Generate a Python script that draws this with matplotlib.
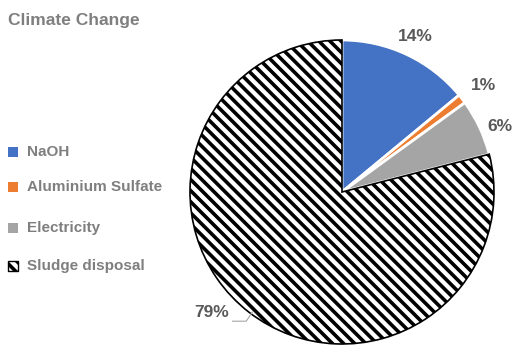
import matplotlib
matplotlib.use("Agg")
import matplotlib.pyplot as plt
from matplotlib.patches import Rectangle
from matplotlib import font_manager

categories = ["NaOH", "Aluminium Sulfate", "Electricity", "Sludge disposal"]
values = [14, 1, 6, 79]
labels = ["14%", "1%", "6%", "79%"]
colors = ["#4472C4", "#ED7D31", "#A5A5A5", "white"]

names = {f.name for f in font_manager.fontManager.ttflist}
fam = ["Liberation Sans Narrow", "DejaVu Sans"] if "Liberation Sans Narrow" in names else ["Liberation Sans", "DejaVu Sans"]
plt.rcParams['font.family'] = fam
plt.rcParams['hatch.linewidth'] = 2.6

W, H = 518, 349
fig = plt.figure(figsize=(W/100, H/100), dpi=100)
cx, cy, r = 342, 192, 152
ax = fig.add_axes([(cx-r)/W, (H-cy-r)/H, 2*r/W, 2*r/H])

wedges, _ = ax.pie(values, colors=colors, startangle=90, counterclock=False, radius=1,
                   wedgeprops=dict(edgecolor='white', linewidth=2))
ax.set_aspect('auto')
ax.set_xlim(-1, 1); ax.set_ylim(-1, 1); ax.axis('off')
wedges[3].set_hatch('\\\\\\')
wedges[3].set_edgecolor('black')
wedges[3].set_linewidth(1.2)

txt = "#595959"
pos = [(0.48, 1.02), (0.93, 0.70), (1.04, 0.43), (-0.86, -0.79)]
for (x, y), lab in zip(pos, labels):
    ax.text(x, y, lab, ha='center', va='center', fontsize=12.5, fontweight='bold', color=txt, clip_on=False)
ax.plot([-0.72, -0.63, -0.59], [-0.85, -0.85, -0.79], color='#A6A6A6', lw=0.8, clip_on=False)

fig.text(8/W, 1-21/H, "Climate Change", fontsize=12.5, fontweight='bold', color='#7F7F7F', va='center', ha='left')

leg_y = [152, 187, 228, 266]
for cat, col, yy, i in zip(categories, colors, leg_y, range(4)):
    rect = Rectangle((8/W, 1-(yy+5)/H), 10/W, 10/H, transform=fig.transFigure,
                     facecolor=col, edgecolor='black' if i == 3 else col, linewidth=1 if i == 3 else 0)
    if i == 3:
        rect.set_hatch('\\\\\\')
    fig.patches.append(rect)
    fig.text(27/W, 1-yy/H, cat, fontsize=11, fontweight='bold', color='#7F7F7F', va='center', ha='left')

fig.savefig("out.png", dpi=100)
